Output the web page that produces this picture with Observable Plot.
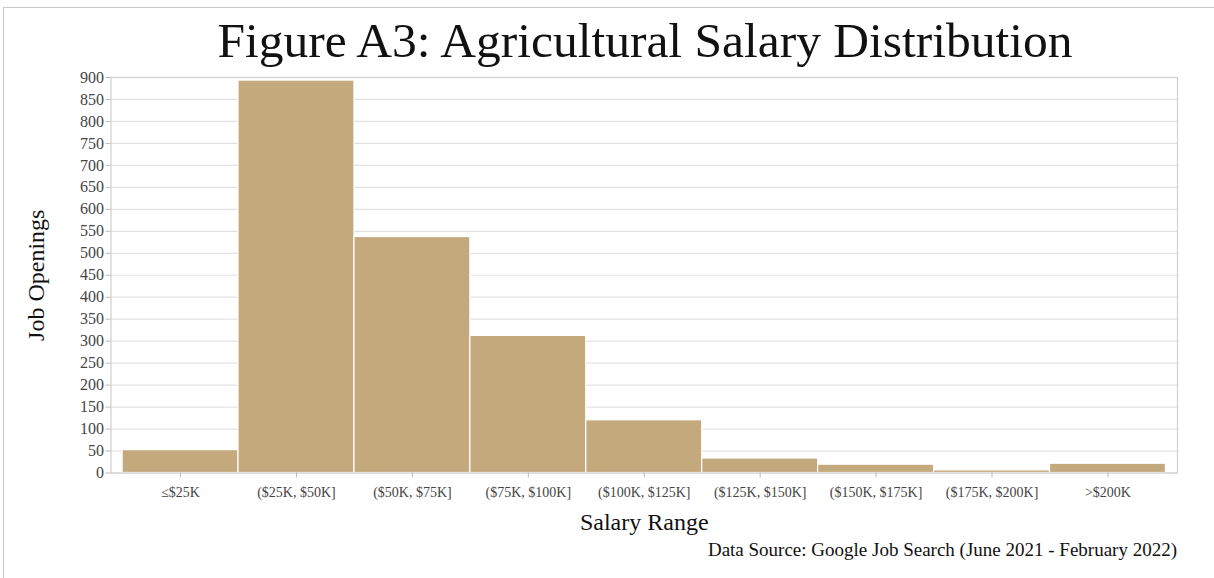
<!DOCTYPE html>
<html>
<head>
<meta charset="utf-8">
<script src="https://cdn.jsdelivr.net/npm/d3@7"></script>
<script src="https://cdn.jsdelivr.net/npm/@observablehq/plot@0.6"></script>
<style>
  html, body { margin: 0; padding: 0; background: #fff; }
  #wrap { position: relative; width: 1214px; height: 578px; overflow: hidden; font-family: "Liberation Serif", "DejaVu Serif", serif; }
  #box { position: absolute; left: 3px; top: 7px; width: 1300px; height: 600px; border: 1.5px solid #c8c8c8; box-sizing: border-box; }
  #title { position: absolute; left: 0; width: 1290px; top: 14px; text-align: center; font-size: 49.5px; color: #111; line-height: 1.1; white-space: nowrap; }
  #caption { position: absolute; right: 37px; top: 539px; font-size: 19px; color: #111; white-space: nowrap; }
  #chart { position: absolute; left: 0; top: 0; }
</style>
</head>
<body>
<div id="wrap">
  <div id="box"></div>
  <div id="chart"></div>
  <div id="title">Figure A3: Agricultural Salary Distribution</div>
  <div id="caption">Data Source: Google Job Search (June 2021 - February 2022)</div>
</div>
<script>
const categories = ["≤$25K", "($25K, $50K]", "($50K, $75K]", "($75K, $100K]", "($100K, $125K]", "($125K, $150K]", "($150K, $175K]", "($175K, $200K]", ">$200K"];
const jobOpenings = [52, 893, 537, 312, 120, 33, 19, 6, 21];
const yTicks = d3.range(0, 901, 50);
const xLabel = "Salary Range";
const yLabel = "Job Openings";

const data = categories.map((c, i) => ({category: c, value: jobOpenings[i]}));

const chart = Plot.plot({
  width: 1214,
  height: 578,
  marginLeft: 110.5,
  marginRight: 37,
  marginTop: 77,
  marginBottom: 105.5,
  style: {fontFamily: "'Liberation Serif', serif", background: "transparent"},
  x: {type: "band", domain: categories, paddingInner: 0, paddingOuter: 0.1, round: false, label: null},
  y: {domain: [0, 900], ticks: yTicks, label: null},
  marks: [
    Plot.gridY(yTicks, {stroke: "#e3e3e3", strokeOpacity: 1, strokeWidth: 1.2}),
    Plot.barY(data, {x: "category", y: "value", fill: "#c4a97d", stroke: "#ffffff", strokeWidth: 1.2}),
    Plot.frame({stroke: "#cfcfcf", strokeWidth: 1.2}),
    Plot.axisY(yTicks, {tickSize: 5, tickPadding: 2, fontSize: 16, color: "#444", stroke: "#bbb", label: null}),
    Plot.axisX({tickSize: 5, tickPadding: 9, fontSize: 14, color: "#444", stroke: "#bbb", label: null}),
    Plot.text([xLabel], {frameAnchor: "bottom", dy: 40, fontSize: 24, fill: "#111", lineAnchor: "top"}),
    Plot.text([yLabel], {frameAnchor: "left", dx: -75, rotate: -90, textAnchor: "middle", fontSize: 24, fill: "#111"})
  ]
});
document.getElementById("chart").appendChild(chart);
</script>
</body>
</html>
